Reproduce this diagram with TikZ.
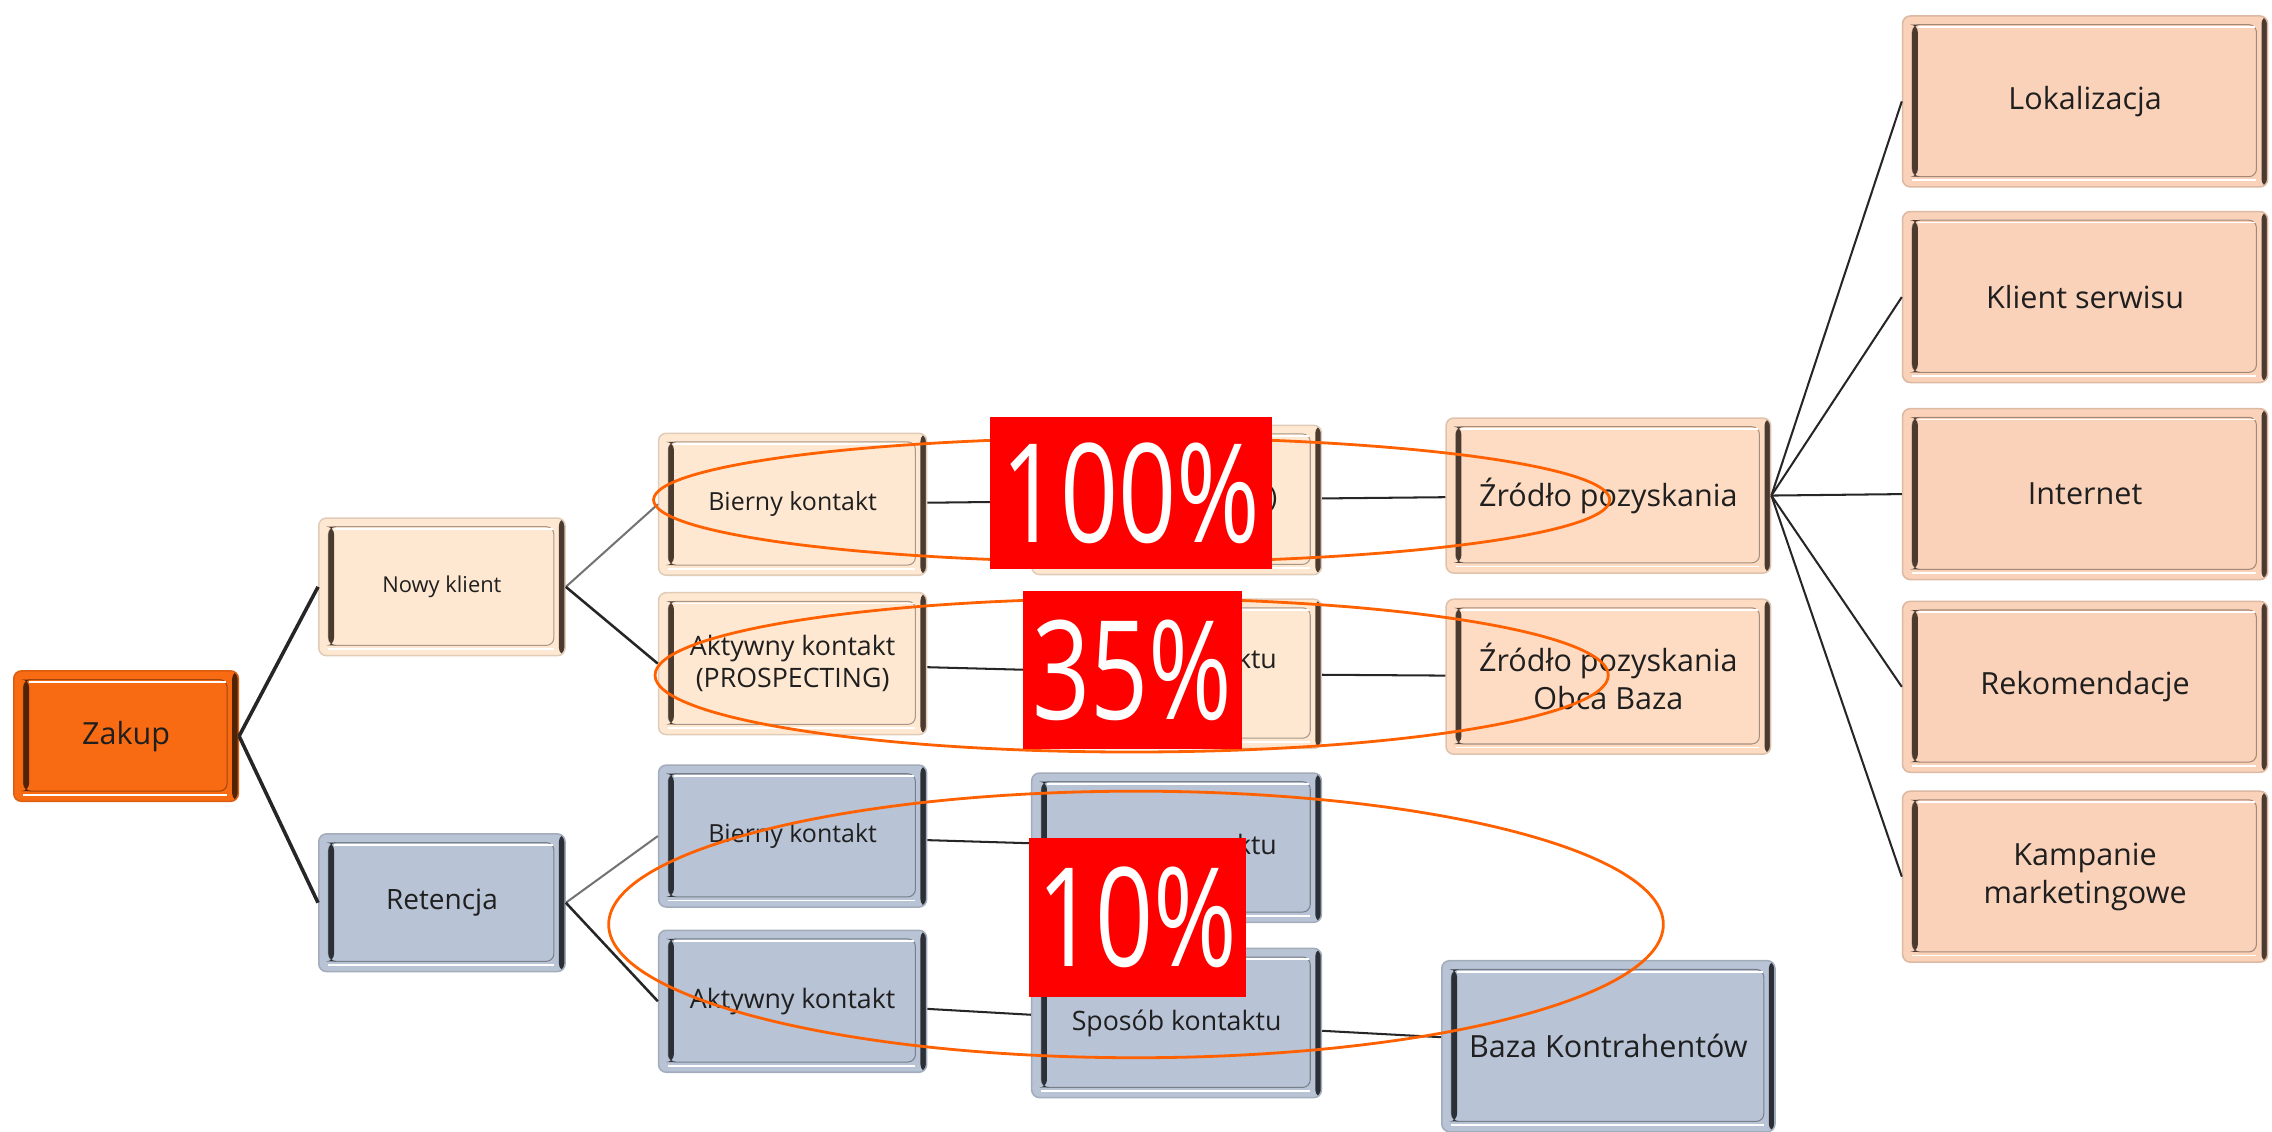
\documentclass[tikz,border=0pt]{standalone}
\usepackage{fontspec}
\setmainfont{Open Sans}
\newfontfamily\prozentfont[FakeStretch=0.74]{Open Sans}

\definecolor{zakupfill}{HTML}{F96B12}
\definecolor{zakupdark}{HTML}{4F2305}
\definecolor{brzoskwinia}{HTML}{FFE8D1}
\definecolor{brzoskwinia2}{HTML}{FDDCC3}
\definecolor{brzoskwinia3}{HTML}{FAD2B9}
\definecolor{brazciemny}{HTML}{4A3A30}
\definecolor{szaryniebieski}{HTML}{B8C3D5}
\definecolor{grafit}{HTML}{2C3036}
\definecolor{elipsa}{HTML}{FF6000}
\definecolor{linia}{HTML}{262626}

\tikzset{
  kasten/.style 2 args={rectangle, rounded corners=3pt, fill=#1, draw=#1!88!black,
    line width=0.6pt, text=black!88, align=center, inner sep=1pt,
    path picture={
      \fill[#2] ([xshift=-2.4pt]path picture bounding box.north east) rectangle (path picture bounding box.south east);
      \draw[#1!65!black, line width=0.4pt] ([shift={(3.8pt,-3.4pt)}]path picture bounding box.north west) rectangle ([shift={(-4.4pt,4pt)}]path picture bounding box.south east);
      \fill[#2] ([shift={(3.8pt,-3.4pt)}]path picture bounding box.north west) rectangle ([shift={(6pt,4pt)}]path picture bounding box.south west);
      \draw[white, line width=0.7pt] ([shift={(6pt,-4.3pt)}]path picture bounding box.north west) -- ([shift={(-4.8pt,-4.3pt)}]path picture bounding box.north east);
      \draw[white, line width=0.7pt] ([shift={(3.8pt,2.6pt)}]path picture bounding box.south west) -- ([shift={(-4.4pt,2.6pt)}]path picture bounding box.south east);
    }},
  nowy/.style={kasten={brzoskwinia}{brazciemny}},
  nowy2/.style={kasten={brzoskwinia2}{brazciemny}},
  kanal/.style={kasten={brzoskwinia3}{brazciemny}},
  stary/.style={kasten={szaryniebieski}{grafit}},
  poziom1/.style={minimum width=3.4cm, minimum height=1.9cm},
  poziom2/.style={minimum width=3.7cm, minimum height=1.96cm, font=\fontsize{9.8}{12}\selectfont},
  poziom3/.style={minimum width=4cm, minimum height=2.06cm, font=\fontsize{10.5}{12}\selectfont},
  poziom4/.style={minimum width=4.48cm, minimum height=2.14cm, font=\fontsize{12}{15}\selectfont},
  zrodlo/.style={kanal, minimum width=5.04cm, minimum height=2.36cm, font=\fontsize{12}{15}\selectfont},
  procent/.style={fill=red, text=white, inner sep=0pt, font=\prozentfont\fontsize{54}{54}\selectfont},
  polaczenie/.style={draw=linia, line width=0.8pt},
}

\begin{document}
\begin{tikzpicture}[x=0.02cm, y=-0.02cm]
	\useasboundingbox (0,0) rectangle (1568,781);
	%korzen
	\node[kasten={zakupfill}{zakupdark}, minimum width=3.1cm, minimum height=1.8cm, font=\fontsize{12}{14}\selectfont] (zakup) at (87,508) {Zakup};
	\node[nowy, poziom1, font=\fontsize{8.6}{10}\selectfont] (nowy) at (305,405) {Nowy klient};
	\node[stary, poziom1, font=\fontsize{11}{13}\selectfont] (retencja) at (305,623) {Retencja};
	%kontakt
	\node[nowy, poziom2] (bierny-1) at (547,348) {Bierny kontakt};
	\node[nowy, poziom2, font=\fontsize{10.5}{12.5}\selectfont] (aktywny-1) at (547,458) {Aktywny kontakt\\(PROSPECTING)};
	\node[stary, poziom2] (bierny-2) at (547,577) {Bierny kontakt};
	\node[stary, poziom2, font=\fontsize{10.5}{12.5}\selectfont] (aktywny-2) at (547,691) {Aktywny kontakt};
	%sposob kontaktu
	\node[nowy, poziom3] (sposob-1) at (812,345) {\phantom{Sposób kontakt})};
	\node[nowy, poziom3] (sposob-2) at (812,465) {\phantom{Sposób kon}ktu\hspace*{-6pt}\\\phantom{x}};
	\node[stary, poziom3] (sposob-3) at (812,585) {\phantom{Sposób kon}ktu\hspace*{-6pt}};
	\node[stary, poziom3] (sposob-4) at (812,706) {Sposób kontaktu};
	%zrodla
	\node[nowy2, poziom4] (zrodlo-1) at (1110,342) {Źródło pozyskania};
	\node[nowy2, poziom4] (zrodlo-2) at (1110,467) {Źródło pozyskania\\Obca Baza};
	\node[stary, poziom4, minimum width=4.6cm, minimum height=2.36cm] (baza) at (1110,722) {Baza Kontrahentów};
	\node[zrodlo] (z-1) at (1439,70) {Lokalizacja};
	\node[zrodlo] (z-2) at (1439,205) {Klient serwisu};
	\node[zrodlo] (z-3) at (1439,341) {Internet};
	\node[zrodlo] (z-4) at (1439,474) {Rekomendacje};
	\node[zrodlo] (z-5) at (1439,605) {Kampanie\\marketingowe};
	%linie
	\draw[polaczenie, line width=1.4pt] (zakup.east) -- (nowy.west) (zakup.east) -- (retencja.west);
	\draw[polaczenie, draw=black!55] (nowy.east) -- (bierny-1.west) (retencja.east) -- (bierny-2.west);
	\draw[polaczenie, line width=1pt] (nowy.east) -- (aktywny-1.west) (retencja.east) -- (aktywny-2.west);
	\draw[polaczenie] (bierny-1) -- (sposob-1) (aktywny-1) -- (sposob-2) (bierny-2) -- (sposob-3) (aktywny-2) -- (sposob-4);
	\draw[polaczenie] (sposob-1) -- (zrodlo-1) (sposob-2) -- (zrodlo-2) (sposob-4) -- (baza);
	\foreach \i in {1,...,5}
		\draw[polaczenie] (zrodlo-1.east) -- (z-\i.west);
	%elipsy
	\draw[elipsa, line width=1.1pt] (781,345) ellipse [x radius=6.6cm, y radius=0.86cm];
	\draw[elipsa, line width=1.1pt] (781,466) ellipse [x radius=6.58cm, y radius=1.06cm];
	\draw[elipsa, line width=1.1pt] (784,638) ellipse [x radius=7.28cm, y radius=1.84cm];
	%procenty
	\node[procent, minimum width=3.9cm, minimum height=2.1cm] (p-100) at (780.5,340.5) {100\%};
	\node[procent, minimum width=3.02cm, minimum height=2.18cm] (p-35) at (781.5,462.5) {35\%};
	\node[procent, minimum width=3cm, minimum height=2.2cm] (p-10) at (785,633) {10\%};
\end{tikzpicture}
\end{document}
